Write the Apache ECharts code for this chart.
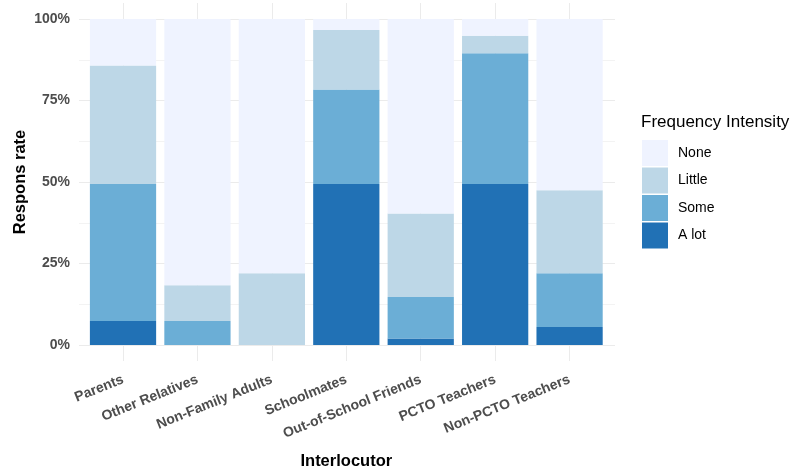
<!DOCTYPE html>
<html><head><meta charset="utf-8">
<script src="https://cdn.jsdelivr.net/npm/echarts@6/dist/echarts.min.js"></script>
<style>html,body{margin:0;padding:0;background:#fff}#c{width:790px;height:471px}</style>
</head><body><div id="c"></div>
<script>
const categories = ['Parents','Other Relatives','Non-Family Adults','Schoolmates','Out-of-School Friends','PCTO Teachers','Non-PCTO Teachers'];
const seriesNames = ['A lot','Some','Little','None'];
const legendOrder = ['None','Little','Some','A lot'];
const aLot   = [7.4, 0, 0, 49.4, 2.0, 49.4, 5.5];
const some   = [42.0, 7.4, 0, 29.0, 12.7, 40.1, 16.5];
const little = [36.3, 10.9, 22.0, 18.2, 25.6, 5.4, 25.5];
const none   = [14.3, 81.7, 78.0, 3.4, 59.7, 5.1, 52.5];
const colors = {'A lot':'#2171B5','Some':'#6BAED6','Little':'#BDD7E7','None':'#EFF3FF'};
const values = {'A lot':aLot,'Some':some,'Little':little,'None':none};
const FONT = 'Liberation Sans';
const chart = echarts.init(document.getElementById('c'));
chart.setOption({
  animation:false,
  textStyle:{fontFamily:FONT},
  title:{text:'Frequency Intensity',left:641,top:114,padding:0,textStyle:{fontFamily:FONT,fontSize:17,fontWeight:'normal',color:'#000'}},
  legend:{data:legendOrder,orient:'vertical',left:642,top:140,padding:0,itemWidth:26,itemHeight:26,itemGap:1.5,
    icon:'rect',textStyle:{fontFamily:FONT,fontSize:14,color:'#000',padding:[0,0,0,5]}},
  grid:[
    {left:123,width:446.3,top:3,height:358,outerBoundsMode:'none',containLabel:false},
    {left:79,width:536,top:19,height:326,outerBoundsMode:'none',containLabel:false},
    {left:85.8,width:521,top:19,height:326,outerBoundsMode:'none',containLabel:false}
  ],
  xAxis:[
    {gridIndex:0,type:'category',data:categories,boundaryGap:false,axisLine:{show:false},axisTick:{show:false},
      axisLabel:{show:false,interval:0},
      splitLine:{show:true,interval:0,lineStyle:{color:'#EBEBEB',width:1}}},
    {gridIndex:1,type:'value',min:0,max:1,show:false},
    {gridIndex:2,type:'category',data:categories,axisLine:{show:false},axisTick:{show:false},
      axisLabel:{rotate:22,margin:34,fontFamily:FONT,fontSize:14,fontWeight:'bold',color:'#4D4D4D',interval:0},
      name:'Interlocutor',nameLocation:'middle',nameGap:108,nameMoveOverlap:false,
      nameTextStyle:{fontFamily:FONT,fontSize:16.5,fontWeight:'bold',color:'#000'}}
  ],
  yAxis:[
    {gridIndex:0,type:'value',min:0,max:1,show:false},
    {gridIndex:1,type:'value',min:0,max:100,interval:25,axisLine:{show:false},axisTick:{show:false},
      axisLabel:{formatter:'{value}%',margin:9,fontFamily:FONT,fontSize:14,fontWeight:'bold',color:'#4D4D4D'},
      splitLine:{show:true,lineStyle:{color:'#EBEBEB',width:1}},
      minorTick:{show:false,splitNumber:2},minorSplitLine:{show:true,lineStyle:{color:'#EBEBEB',width:0.6}},
      name:'Respons rate',nameLocation:'middle',nameGap:50,nameRotate:90,nameMoveOverlap:false,
      nameTextStyle:{fontFamily:FONT,fontSize:16.5,fontWeight:'bold',color:'#000'}},
    {gridIndex:2,type:'value',min:0,max:100,show:false}
  ],
  series: seriesNames.map(n=>({
    name:n,type:'bar',stack:'t',xAxisIndex:2,yAxisIndex:2,barCategoryGap:'11%',
    data:values[n],itemStyle:{color:colors[n]}
  })).concat([
    {type:'line',xAxisIndex:1,yAxisIndex:1,data:[],silent:true}
  ])
});
</script></body></html>
